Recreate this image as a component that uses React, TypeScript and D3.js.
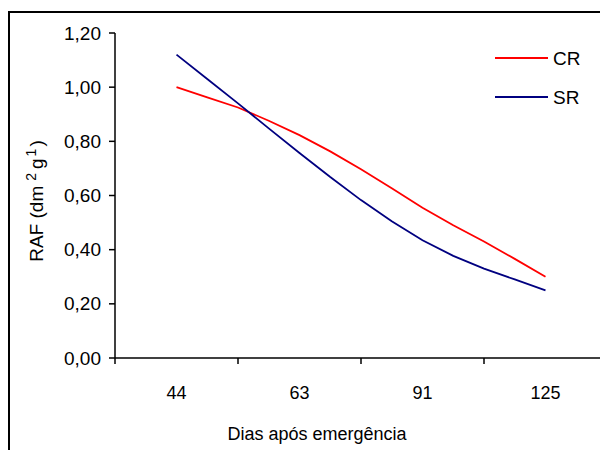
import React from 'react';
import * as d3 from 'd3';

// category labels on the x axis (days after emergence)
const days = ['44', '63', '91', '125'];
const yTicks = [0, 0.2, 0.4, 0.6, 0.8, 1.0, 1.2];

// values read at quarter-category steps, from 44 to 125
const crValues = [1.0, 0.962, 0.925, 0.876, 0.823, 0.763, 0.697, 0.627, 0.555, 0.49, 0.43, 0.366, 0.3];
const srValues = [1.12, 1.03, 0.94, 0.848, 0.757, 0.668, 0.583, 0.505, 0.435, 0.377, 0.33, 0.29, 0.25];

const series = [
  { key: 'CR', values: crValues, color: '#ff0000' },
  { key: 'SR', values: srValues, color: '#000080' },
];

const W = 600;
const H = 450;
const FONT = '"Liberation Sans", Arial, sans-serif';
const FS = 18;

const AX_LEFT = 115;
const AX_RIGHT = 607;
const AX_BOTTOM = 358;
const AX_TOP = 33;

export default function App() {
  const band = d3.scaleBand<string>().domain(days).range([AX_LEFT, AX_RIGHT]);
  const bw = band.bandwidth();
  // fractional category index -> pixel
  const x = d3.scaleLinear().domain([0, days.length - 1]).range([AX_LEFT + bw / 2, AX_LEFT + bw * (days.length - 0.5)]);
  const y = d3.scaleLinear().domain([0, 1.2]).range([AX_BOTTOM, AX_TOP]);
  const fmt = (v: number) => v.toFixed(2).replace('.', ',');

  const line = d3.line<number>()
    .x((_, i) => x(i / 4))
    .y(d => y(d));

  const catTicks = d3.range(days.length + 1).map(i => AX_LEFT + i * bw);

  return (
    <svg width={W} height={H} style={{ position: 'absolute', left: 0, top: 0, fontFamily: FONT }}>
      <rect x={0} y={0} width={W} height={H} fill="#fff" />
      <rect x={9} y={12} width={640} height={480} fill="none" stroke="#000" strokeWidth={2} />

      {/* y axis */}
      <line x1={AX_LEFT} x2={AX_LEFT} y1={AX_TOP} y2={AX_BOTTOM} stroke="#000" strokeWidth={1.5} />
      {yTicks.map(t => (
        <g key={t}>
          <line x1={AX_LEFT - 6} x2={AX_LEFT} y1={y(t)} y2={y(t)} stroke="#000" strokeWidth={1.5} />
          <text x={101} y={y(t) + 6.5} textAnchor="end" fontSize={19} fill="#000">{fmt(t)}</text>
        </g>
      ))}

      {/* x axis */}
      <line x1={AX_LEFT} x2={W} y1={AX_BOTTOM} y2={AX_BOTTOM} stroke="#000" strokeWidth={1.5} />
      {catTicks.map((t, i) => (
        <line key={i} x1={t} x2={t} y1={AX_BOTTOM} y2={AX_BOTTOM + 6} stroke="#000" strokeWidth={1.5} />
      ))}
      {days.map(d => (
        <text key={d} x={(band(d) ?? 0) + bw / 2} y={399} textAnchor="middle" fontSize={FS} fill="#000">{d}</text>
      ))}

      <text x={317} y={440} textAnchor="middle" fontSize={FS} fill="#000">Dias após emergência</text>
      <text transform="translate(43,201) rotate(-90)" textAnchor="middle" fontSize={19} fill="#000">
        RAF (dm<tspan fontSize={14} dx={5} dy={-7}>2</tspan>
        <tspan dx={4} dy={7}>g</tspan><tspan fontSize={14} dx={2} dy={-7}>1</tspan><tspan dx={2} dy={7}>)</tspan>
      </text>

      {/* series */}
      {series.map(s => (
        <path key={s.key} d={line(s.values) ?? undefined} fill="none" stroke={s.color} strokeWidth={1.8} />
      ))}

      {/* legend */}
      {series.map((s, i) => (
        <g key={s.key} transform={`translate(495,${58 + i * 39})`}>
          <line x1={0} x2={53} y1={0} y2={0} stroke={s.color} strokeWidth={1.8} />
          <text x={58} y={7} fontSize={19} fill="#000">{s.key}</text>
        </g>
      ))}
    </svg>
  );
}
